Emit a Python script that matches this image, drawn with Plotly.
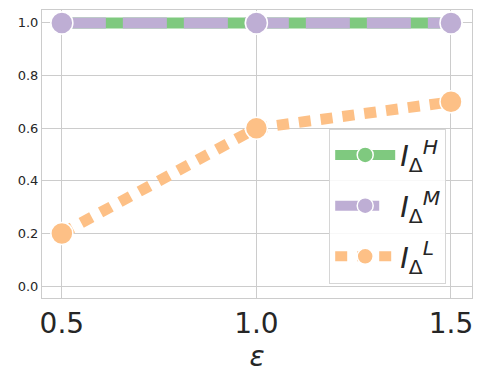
import plotly.graph_objects as go

eps = [0.5, 1.0, 1.5]
i_high = [1.0, 1.0, 1.0]
i_mid = [1.0, 1.0, 1.0]
i_low = [0.2, 0.6, 0.7]
x_ticks = [0.5, 1.0, 1.5]
x_tick_labels = ["0.5", "1.0", "1.5"]
y_ticks = [0.0, 0.2, 0.4, 0.6, 0.8, 1.0]
y_tick_labels = ["0.0", "0.2", "0.4", "0.6", "0.8", "1.0"]
names = ["<i>I</i><sub>Δ</sub><sup><i>H</i></sup>",
         "<i>I</i><sub>Δ</sub><sup><i>M</i></sup>",
         "<i>I</i><sub>Δ</sub><sup><i>L</i></sup>"]
colors = ["#7fc97f", "#beaed4", "#fdc086"]
dashes = ["solid", "44px,17px", "12px,10px"]

fig = go.Figure()
for i, (ys, nm, c, d) in enumerate(zip([i_high, i_mid, i_low], names, colors, dashes)):
    fig.add_trace(go.Scatter(
        x=eps, y=ys, mode="lines+markers", name=nm,
        legendgroup=str(i),
        line=dict(color=c, width=11, dash=d),
        marker=dict(size=22, color=c, line=dict(color="white", width=1.5)),
    ))

fig.update_layout(
    width=488, height=390,
    margin=dict(l=42, r=16, t=10, b=92),
    paper_bgcolor="white", plot_bgcolor="white",
    font=dict(family="DejaVu Sans", color="#262626"),
    showlegend=True,
    legend=dict(
        x=0.94, y=0.05, xanchor="right", yanchor="bottom",
        bgcolor="rgba(255,255,255,0.85)", bordercolor="#d6d6d6", borderwidth=1,
        font=dict(size=29, family="DejaVu Sans", color="#262626"),
        tracegroupgap=10, itemwidth=60,
    ),
)
fig.update_xaxes(
    range=[0.449, 1.554], tickvals=x_ticks, ticktext=x_tick_labels,
    tickfont=dict(size=28), showgrid=True, gridcolor="#cccccc", gridwidth=1,
    showline=True, linecolor="#cccccc", mirror=True, zeroline=False,
    automargin=False, ticks="", ticklen=0,
    title=dict(text="<i>ε</i>", font=dict(size=28), standoff=7),
)
fig.update_yaxes(
    range=[-0.0456, 1.049], tickvals=y_ticks, ticktext=y_tick_labels,
    tickfont=dict(size=13), showgrid=True, gridcolor="#cccccc", gridwidth=1,
    showline=True, linecolor="#cccccc", mirror=True, zeroline=False,
    automargin=False,
)

fig.write_html("out.html", config={"displayModeBar": False},
               post_script="document.body.style.margin='0';")
